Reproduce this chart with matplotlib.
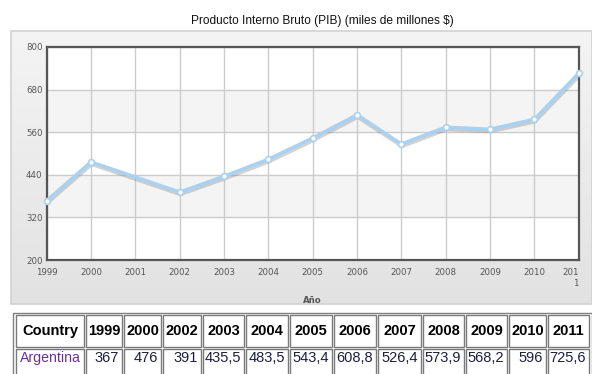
import numpy as np
import matplotlib
matplotlib.use("Agg")
import matplotlib.pyplot as plt
import matplotlib.patheffects as pe
from matplotlib.colors import LinearSegmentedColormap
from matplotlib.patches import Rectangle

# PIB Argentina (miles de millones $)
years = [1999, 2000, 2002, 2003, 2004, 2005, 2006, 2007, 2008, 2009, 2010, 2011]
pib = [367, 476, 391, 435.5, 483.5, 543.4, 608.8, 526.4, 573.9, 568.2, 596, 725.6]
country = "Argentina"
xticks = list(range(1999, 2012))
yticks = [200, 320, 440, 560, 680, 800]

W, H = 592, 374
sans = ['Liberation Sans', 'DejaVu Sans']

fig = plt.figure(figsize=(W / 100, H / 100), dpi=100)

# fondo en coordenadas de pixel
bg = fig.add_axes([0, 0, 1, 1])
bg.set_xlim(0, W)
bg.set_ylim(H, 0)
bg.axis('off')

cmap = LinearSegmentedColormap.from_list('panel', ['#f4f4f4', '#e2e2e2'])
bg.imshow(np.linspace(0, 1, 100).reshape(-1, 1), cmap=cmap, aspect='auto',
          extent=(11, W, 304, 31), zorder=0)
bg.add_patch(Rectangle((11, 31), W - 11, 273, fill=False, ec='#d2d2d2', lw=1.2, zorder=1))
bg.set_xlim(0, W)
bg.set_ylim(H, 0)

bg.text(322, 21, "Producto Interno Bruto (PIB) (miles de millones $)",
        ha='center', va='center', fontsize=8.6, family=sans, color='#111111')

# tabla
edges = [15, 85, 123, 162, 202, 245, 289, 333, 377, 422, 465, 508, 547, 590]
rows = [(315, 347), (349, 390)]
header = ["Country"] + [str(y) for y in years]
cells = [country] + [f"{v:g}".replace('.', ',') for v in pib]

bg.add_patch(Rectangle((13, 313), 579, 80, fill=False, ec='#808080', lw=1.0))
for r, (y0, y1) in enumerate(rows):
    for i in range(len(edges) - 1):
        x0, x1 = edges[i] + 1, edges[i + 1] - 1
        bg.add_patch(Rectangle((x0, y0), x1 - x0, y1 - y0, fill=False,
                               ec='#7a7a7a', lw=1.0))
for i, lab in enumerate(header):
    xc = (edges[i] + edges[i + 1]) / 2
    bg.text(xc, 331, lab, ha='center', va='center', fontsize=10.5, fontweight='bold',
            family=sans, color='#000000')
bg.text(edges[0] + 5, 358, cells[0], ha='left', va='center', fontsize=10.2,
        family=sans, color='#6b2f9c')
for i, lab in enumerate(cells[1:], start=1):
    bg.text(edges[i + 1] - 4, 358, lab, ha='right', va='center', fontsize=10.5,
            family=sans, color='#1e1e3c')

# grafico
ax = fig.add_axes([46.7 / W, 1 - 260 / H, 532 / W, 213 / H])
ax.set_facecolor('white')
ax.set_xlim(1999, 2011)
ax.set_ylim(200, 800)
for lo in (320, 560):
    ax.axhspan(lo, lo + 120, color='#f4f4f4', zorder=0)
ax.set_xticks(xticks)
ax.set_yticks(yticks)
ax.grid(True, color='#cccccc', lw=1, zorder=1)
ax.set_axisbelow(True)

ax.plot(years, pib, color='#a9d2f2', lw=2.6, zorder=3, solid_joinstyle='round',
        path_effects=[pe.SimpleLineShadow(offset=(0.5, -1.6), shadow_color='#808080', alpha=0.35),
                      pe.Normal()])
ax.plot(years, pib, 'o', ms=4.2, mfc='white', mec='#a9d2f2', mew=1.2, zorder=4,
        clip_on=False)

for s in ax.spines.values():
    s.set_color('#555555')
    s.set_linewidth(1.6)

labels = [str(x) for x in xticks]
labels[-1] = "201\n1"
ax.set_xticklabels(labels)
ax.tick_params(length=0, labelsize=6.2, labelcolor='#555555', pad=6)
ax.tick_params(axis='y', pad=3)
last = ax.get_xticklabels()[-1]
last.set_horizontalalignment('right')
last.set_multialignment('right')
ax.set_xlabel("Año", fontsize=6.2, fontweight='bold', color='#555555', labelpad=6)

fig.savefig('out.png', dpi=100)
